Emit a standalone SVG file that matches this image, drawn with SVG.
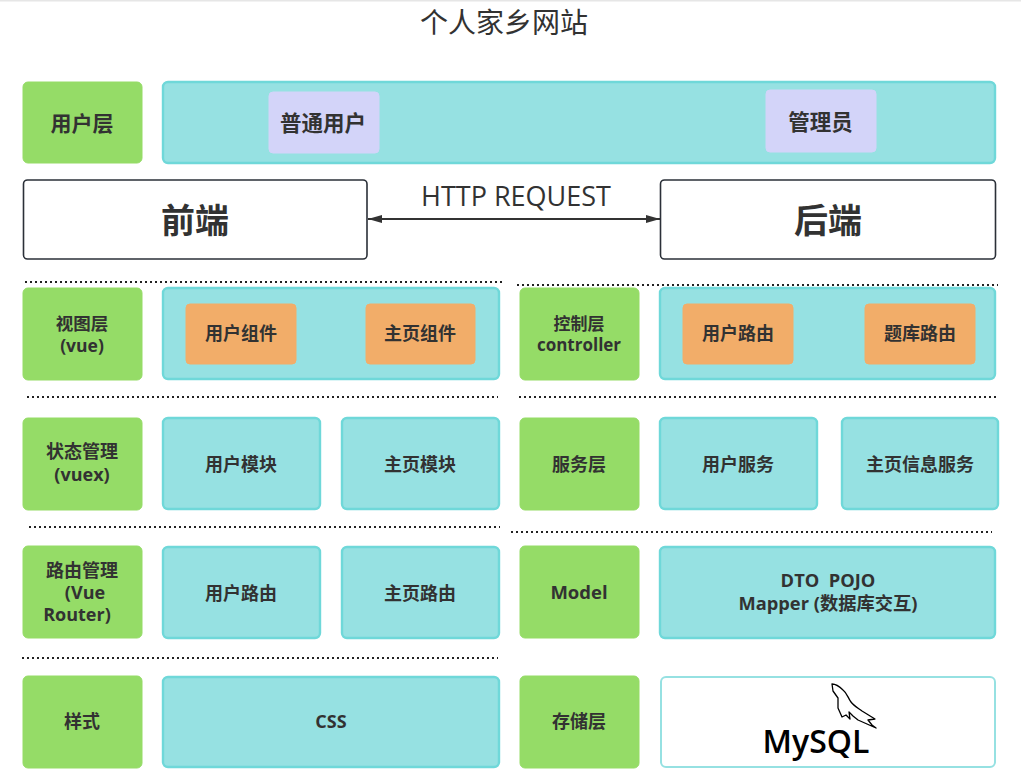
<svg xmlns="http://www.w3.org/2000/svg" width="1021" height="781" viewBox="0 0 1021 781">
<style>
text{font-family:"Open Sans","Noto Sans CJK SC",sans-serif;fill:#323232;text-anchor:middle;font-weight:700;font-size:18px}
.g{fill:#95dc67;stroke:#95dc67;stroke-width:1}
.t{fill:#96e1e2;stroke:#6fd8d9;stroke-width:2.4}
.p{fill:#d3d4f9;stroke:#d3d4f9;stroke-width:1}
.o{fill:#f2ad69;stroke:#f2ad69;stroke-width:1}
.w{fill:#fff;stroke:#2b3038;stroke-width:1.6}
.d{stroke:#222;stroke-width:2;stroke-dasharray:2 3;fill:none}
.big{font-size:34px}
.reg{font-weight:400}
.m{font-size:21px}
</style>
<defs><marker id="a" markerWidth="15" markerHeight="10" refX="14" refY="4" orient="auto-start-reverse" markerUnits="userSpaceOnUse"><path d="M0 0L14 4L0 8Z" fill="#333"/></marker></defs>
<rect width="1021" height="781" fill="#fff"/>
<rect width="1021" height="1.5" fill="#e6e6e6"/>
<text id="title" x="504" y="33" class="reg" style="font-size:28px">个人家乡网站</text>
<g id="connectors">
<path d="M368 219H660" stroke="#333" stroke-width="2" fill="none" marker-start="url(#a)" marker-end="url(#a)"/>
<path class="d" d="M25 282H502M517 285H998M27 397H498M519 397H998M29 527H500M511 532H992M22 658H498"/>
</g>
<text id="http-label" x="516" y="206" class="reg" style="font-size:27px">HTTP REQUEST</text>
<g id="user-layer"><rect class="g" x="23" y="82" width="119" height="81" rx="5"/><text class="m" x="82" y="131">用户层</text></g>
<g id="user-band"><rect class="t" x="163" y="82" width="832" height="81" rx="5"/></g>
<g id="user-normal"><rect class="p" x="269" y="92" width="110" height="61" rx="4"/><text x="323" y="131" style="font-size:21.500px">普通用户</text></g>
<g id="user-admin"><rect class="p" x="766" y="90" width="110" height="62" rx="4"/><text x="820.500" y="130" style="font-size:21.500px">管理员</text></g>
<g id="frontend"><rect class="w" x="23.500" y="180" width="343.500" height="79" rx="4"/><text class="big" x="195" y="233">前端</text></g>
<g id="backend"><rect class="w" x="660.500" y="180" width="335" height="79" rx="4"/><text class="big" x="828" y="233">后端</text></g>

<g id="view-layer"><rect class="g" x="23" y="288" width="119" height="92" rx="5"/><text x="82" y="330" style="font-size:17.500px">视图层</text><text x="82" y="352" style="font-size:17.500px">(vue)</text></g>
<g id="view-band"><rect class="t" x="163" y="288" width="336" height="91" rx="5"/></g>
<g id="view-user"><rect class="o" x="186" y="304" width="110" height="60" rx="4"/><text x="241" y="340">用户组件</text></g>
<g id="view-home"><rect class="o" x="366" y="304" width="109" height="60" rx="4"/><text x="420" y="340">主页组件</text></g>
<g id="ctrl-layer"><rect class="g" x="520" y="288" width="119" height="92" rx="5"/><text x="579" y="330" style="font-size:17px">控制层</text><text x="579" y="351" style="font-size:17px">controller</text></g>
<g id="ctrl-band"><rect class="t" x="660" y="288" width="335" height="91" rx="5"/></g>
<g id="ctrl-user"><rect class="o" x="683" y="304" width="110" height="60" rx="4"/><text x="738" y="340">用户路由</text></g>
<g id="ctrl-bank"><rect class="o" x="865" y="304" width="110" height="60" rx="4"/><text x="920" y="340">题库路由</text></g>

<g id="state-layer"><rect class="g" x="23" y="418" width="119" height="92" rx="5"/><text x="82" y="458">状态管理</text><text x="82" y="481">(vuex)</text></g>
<g id="state-user"><rect class="t" x="163" y="418" width="157" height="91" rx="5"/><text x="241" y="471">用户模块</text></g>
<g id="state-home"><rect class="t" x="342" y="418" width="157" height="91" rx="5"/><text x="420" y="471">主页模块</text></g>
<g id="svc-layer"><rect class="g" x="520" y="418" width="119" height="92" rx="5"/><text x="579" y="471">服务层</text></g>
<g id="svc-user"><rect class="t" x="660" y="418" width="157" height="91" rx="5"/><text x="738" y="471">用户服务</text></g>
<g id="svc-home"><rect class="t" x="842" y="418" width="156" height="91" rx="5"/><text x="920" y="471">主页信息服务</text></g>

<g id="route-layer"><rect class="g" x="23" y="546" width="119" height="92" rx="5"/><text x="82" y="577">路由管理</text><text x="85" y="599">(Vue</text><text x="77" y="621">Router)</text></g>
<g id="route-user"><rect class="t" x="163" y="547" width="157" height="91" rx="5"/><text x="241" y="600">用户路由</text></g>
<g id="route-home"><rect class="t" x="342" y="547" width="157" height="91" rx="5"/><text x="420" y="600">主页路由</text></g>
<g id="model-layer"><rect class="g" x="520" y="546" width="119" height="92" rx="5"/><text x="579" y="599" style="font-size:18.500px">Model</text></g>
<g id="model-band"><rect class="t" x="660" y="547" width="335" height="91" rx="5"/><text x="828" y="587" xml:space="preserve" style="font-size:18.300px">DTO  POJO</text><text x="828" y="610" style="font-size:18.300px">Mapper (数据库交互)</text></g>

<g id="style-layer"><rect class="g" x="23" y="676" width="119" height="92" rx="5"/><text x="82" y="728">样式</text></g>
<g id="style-css"><rect class="t" x="163" y="677" width="336" height="90" rx="5"/><text x="331" y="728">CSS</text></g>
<g id="store-layer"><rect class="g" x="520" y="676" width="119" height="92" rx="5"/><text x="579" y="728">存储层</text></g>
<g id="store-mysql"><rect x="661" y="677" width="334" height="90" rx="5" fill="#fff" stroke="#96e1e2" stroke-width="2"/>
<path d="M832 684C836 684 840 687 843 690C847 693 848 698 851 702C854 706 858 708 862 711L875 719L868 720L872 725L876 728L867 724L858 720L853 716L849 712L850 719L846 715L842 717L838 708L838 698L833 691Z" fill="#fff" stroke="#000" stroke-width="1.300" stroke-linejoin="round"/>
<text x="816" y="753" style="font-family:'Open Sans','Liberation Sans',sans-serif;font-size:32px;font-weight:600;fill:#000">MySQL</text></g>
</svg>
